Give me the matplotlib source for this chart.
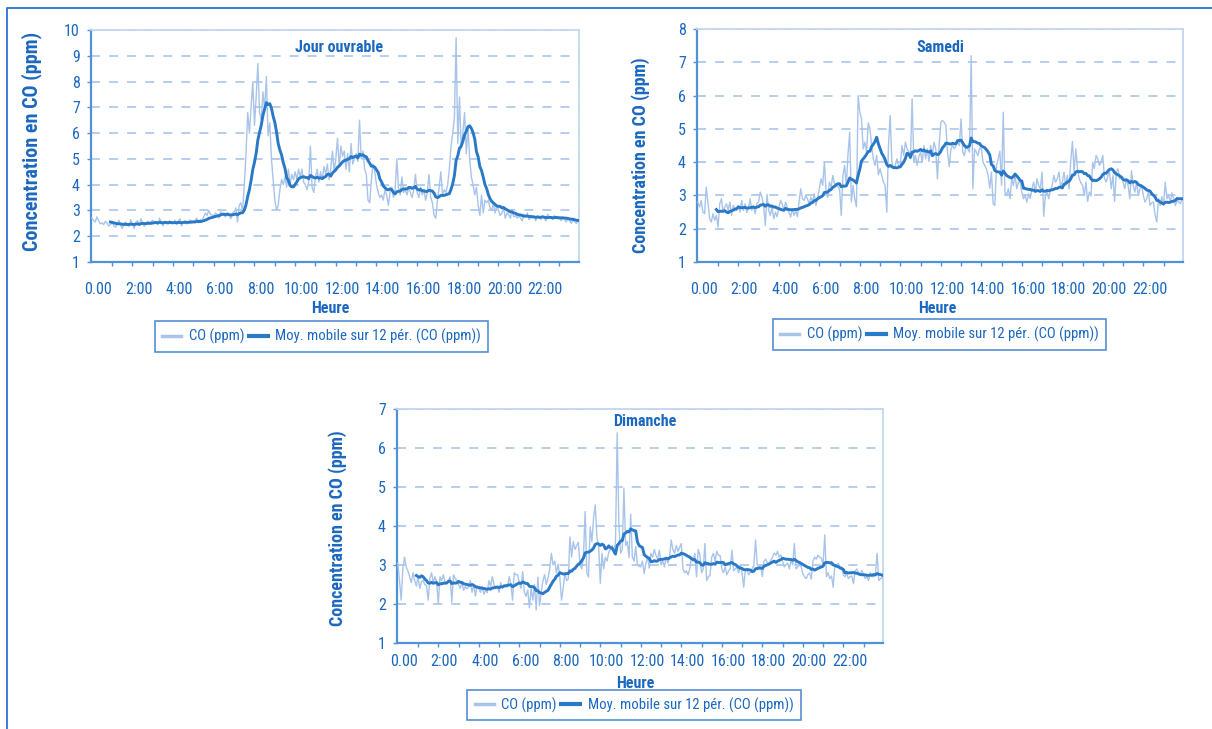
import numpy as np
import pandas as pd
import matplotlib
matplotlib.use("Agg")
import matplotlib.pyplot as plt
from matplotlib import font_manager
from matplotlib.lines import Line2D

W, H = 1212, 729

hour_labels = ["0.00", "2:00", "4:00", "6:00", "8:00", "10:00",
               "12:00", "14:00", "16:00", "18:00", "20:00", "22:00"]
titles = ["Jour ouvrable", "Samedi", "Dimanche"]
y_max = [10, 8, 7]
legend_labels = ["CO (ppm)", "Moy. mobile sur 12 pér. (CO (ppm))"]
ma_window = 12

# 5-minute CO readings (ppm), one row per hour
co_ouvrable = [
    2.70, 2.62, 2.55, 2.75, 2.60, 2.48, 2.52, 2.45, 2.58, 2.50, 2.40, 2.45,
    2.55, 2.40, 2.35, 2.50, 2.62, 2.42, 2.30, 2.48, 2.55, 2.45, 2.38, 2.64,
    2.45, 2.30, 2.55, 2.60, 2.42, 2.68, 2.50, 2.38, 2.52, 2.58, 2.45, 2.57,
    2.62, 2.48, 2.55, 2.45, 2.70, 2.52, 2.40, 2.58, 2.50, 2.47, 2.60, 2.49,
    2.50, 2.62, 2.45, 2.58, 2.68, 2.40, 2.55, 2.60, 2.48, 2.52, 2.63, 2.59,
    2.55, 2.62, 2.70, 2.52, 2.65, 2.58, 2.75, 2.90, 2.80, 3.00, 2.85, 2.82,
    2.78, 2.90, 2.85, 2.70, 2.95, 2.88, 2.80, 2.75, 2.92, 2.85, 2.68, 2.90,
    2.95, 3.10, 2.55, 3.20, 3.30, 2.95, 4.00, 5.20, 6.80, 6.00, 7.00, 8.00,
    6.30, 7.40, 8.70, 6.80, 6.50, 7.60, 6.90, 8.20, 5.90, 6.40, 5.00, 4.20,
    3.40, 3.00, 3.20, 3.80, 4.20, 4.00, 4.30, 3.90, 4.60, 4.00, 4.40, 4.20,
    4.50, 4.20, 4.60, 4.30, 4.60, 4.10, 4.00, 3.80, 4.10, 5.50, 3.90, 3.70,
    4.30, 4.60, 4.10, 4.50, 4.20, 4.70, 4.40, 4.80, 4.20, 4.60, 5.30, 4.50,
    5.00, 5.80, 4.70, 5.50, 5.10, 5.30, 4.60, 5.20, 4.50, 5.60, 4.80, 5.00,
    5.20, 4.90, 6.50, 5.00, 5.30, 4.60, 4.40, 3.40, 3.30, 4.20, 4.80, 4.50,
    4.00, 3.70, 3.50, 3.60, 3.40, 3.80, 3.60, 3.20, 3.70, 3.90, 3.50, 3.80,
    5.00, 3.90, 3.60, 4.30, 3.70, 3.80, 3.60, 3.90, 3.70, 3.50, 3.80, 4.40,
    3.70, 3.50, 3.90, 3.60, 3.80, 3.40, 3.70, 4.40, 3.50, 3.30, 2.80, 2.70,
    3.40, 3.90, 4.50, 3.60, 3.80, 3.70, 4.00, 4.60, 5.50, 6.00, 6.60, 9.70,
    5.60, 7.40, 5.40, 6.00, 6.80, 5.20, 6.20, 5.00, 4.30, 4.00, 3.60, 3.90,
    3.20, 2.80, 3.60, 2.90, 3.40, 3.30, 3.40, 3.10, 3.00, 3.30, 2.90, 3.20,
    3.00, 2.80, 2.90, 3.10, 2.70, 2.90, 2.85, 2.70, 3.00, 2.75, 2.80, 2.70,
    2.80, 2.70, 2.60, 2.85, 2.75, 2.90, 2.65, 2.70, 2.80, 2.75, 2.60, 2.80,
    2.75, 2.65, 2.80, 2.70, 2.60, 2.85, 2.75, 2.70, 2.65, 2.80, 2.72, 2.68,
    2.70, 2.60, 2.75, 2.65, 2.55, 2.70, 2.60, 2.50, 2.65, 2.55, 2.50, 2.60,
]

co_samedi = [
    2.80, 2.65, 2.85, 2.50, 2.45, 3.25, 2.80, 2.30, 2.20, 2.45, 2.25, 2.40,
    2.05, 2.75, 2.90, 2.50, 2.65, 2.75, 2.55, 2.80, 2.40, 2.70, 2.60, 2.55,
    2.70, 2.50, 2.85, 2.55, 2.75, 2.49, 2.60, 2.90, 2.55, 2.70, 2.45, 2.76,
    2.80, 3.10, 2.95, 2.70, 2.10, 3.03, 2.55, 2.40, 2.65, 2.30, 2.50, 2.36,
    2.60, 2.85, 2.75, 2.55, 2.80, 2.65, 2.50, 2.35, 2.60, 2.40, 2.55, 2.36,
    2.80, 3.20, 2.90, 2.85, 3.00, 2.89, 2.75, 2.95, 2.80, 3.05, 2.70, 2.91,
    3.20, 3.50, 3.30, 4.00, 3.10, 2.94, 3.40, 3.25, 3.60, 3.35, 3.30, 3.26,
    3.20, 2.40, 3.60, 3.90, 3.30, 4.24, 4.90, 2.80, 3.30, 2.90, 2.66, 6.00,
    5.50, 5.30, 4.40, 4.60, 4.30, 5.18, 5.00, 4.50, 4.10, 3.90, 4.20, 3.62,
    3.80, 3.60, 3.40, 3.30, 2.50, 4.52, 5.40, 4.00, 3.80, 3.90, 4.10, 3.88,
    3.90, 4.50, 4.20, 4.60, 4.40, 4.32, 4.10, 5.90, 4.00, 4.20, 3.90, 4.18,
    4.30, 4.00, 4.50, 4.10, 4.40, 4.02, 4.50, 4.20, 4.60, 4.40, 3.50, 4.48,
    5.20, 5.25, 5.20, 5.10, 4.30, 3.87, 4.40, 4.50, 4.40, 4.50, 4.60, 4.50,
    5.30, 4.30, 4.20, 4.50, 4.40, 4.30, 7.20, 3.20, 4.40, 4.30, 4.20, 4.42,
    4.40, 4.00, 3.90, 3.80, 3.60, 3.22, 3.70, 2.75, 2.70, 3.90, 4.10, 4.33,
    3.30, 5.50, 3.10, 3.00, 3.20, 2.90, 3.50, 3.30, 3.60, 3.20, 3.40, 3.40,
    3.10, 2.90, 3.00, 2.80, 3.05, 2.91, 3.20, 3.40, 3.10, 3.50, 3.30, 3.18,
    3.70, 2.37, 3.00, 3.10, 2.90, 3.17, 3.30, 3.60, 3.40, 3.50, 3.70, 3.26,
    3.40, 3.70, 3.30, 3.60, 3.20, 4.04, 4.62, 3.70, 4.40, 3.80, 3.50, 3.38,
    3.30, 3.00, 3.40, 2.82, 3.10, 2.98, 4.00, 3.80, 4.20, 4.10, 3.90, 4.00,
    4.20, 3.50, 3.40, 3.60, 3.70, 3.20, 3.60, 2.82, 3.70, 3.80, 3.50, 3.58,
    3.40, 3.20, 3.50, 3.30, 2.90, 3.74, 3.30, 3.10, 3.40, 3.00, 3.20, 3.32,
    3.00, 2.80, 2.90, 3.10, 2.70, 2.78, 2.80, 2.40, 2.20, 2.90, 2.70, 2.96,
    2.70, 3.40, 2.90, 3.00, 2.80, 3.08, 2.90, 2.70, 2.85, 2.80, 2.75, 2.92,
]

co_dimanche = [
    3.05, 2.60, 2.10, 2.90, 3.20, 2.95, 2.85, 2.70, 2.55, 2.80, 2.60, 2.46,
    2.70, 2.40, 2.57, 2.60, 2.50, 2.47, 2.10, 2.65, 2.80, 2.55, 2.70, 2.56,
    2.01, 2.70, 2.60, 2.75, 2.55, 2.51, 2.60, 2.70, 2.05, 2.75, 2.65, 2.61,
    2.50, 2.40, 2.55, 2.35, 2.45, 2.39, 2.45, 2.60, 2.30, 2.50, 2.20, 2.47,
    2.40, 2.30, 2.45, 2.25, 2.35, 2.29, 2.60, 2.45, 2.70, 2.50, 2.40, 2.47,
    2.30, 2.55, 2.40, 2.50, 2.45, 2.44, 2.70, 2.50, 2.10, 2.80, 2.75, 2.75,
    2.55, 2.40, 2.83, 2.30, 2.20, 2.36, 1.90, 2.40, 2.10, 2.50, 1.85, 2.69,
    1.95, 2.30, 2.60, 2.75, 2.50, 2.66, 2.90, 3.30, 3.00, 3.10, 2.80, 3.02,
    2.70, 2.10, 2.40, 2.80, 2.60, 2.64, 3.72, 3.20, 3.60, 3.40, 3.50, 3.58,
    3.00, 2.90, 3.20, 4.37, 2.80, 2.69, 3.98, 3.60, 4.20, 4.54, 3.70, 3.50,
    2.53, 3.30, 2.90, 3.20, 3.10, 3.33, 3.40, 3.50, 3.30, 3.60, 6.39, 4.05,
    3.30, 3.40, 4.97, 3.50, 3.60, 3.19, 4.30, 3.20, 3.10, 3.47, 3.00, 2.97,
    2.95, 3.10, 2.78, 3.05, 3.20, 2.92, 3.30, 3.20, 3.40, 3.25, 3.15, 3.38,
    3.00, 3.10, 2.95, 3.20, 3.05, 3.18, 3.64, 3.40, 3.30, 3.50, 3.35, 3.45,
    3.55, 2.90, 2.80, 2.85, 2.75, 2.91, 3.20, 3.10, 3.30, 2.70, 3.40, 3.26,
    2.80, 2.90, 3.55, 2.60, 2.70, 2.73, 3.20, 3.30, 3.10, 3.35, 3.25, 3.24,
    2.90, 2.80, 2.95, 2.75, 2.85, 2.91, 3.38, 2.85, 2.90, 2.95, 2.80, 3.00,
    2.80, 2.43, 2.90, 2.85, 2.75, 2.83, 2.90, 3.00, 3.64, 3.00, 2.95, 2.99,
    2.70, 3.10, 3.15, 3.05, 3.00, 3.12, 3.20, 3.30, 3.25, 3.35, 3.20, 3.26,
    3.10, 2.95, 3.00, 3.05, 2.90, 3.12, 3.00, 3.55, 2.90, 2.95, 3.00, 2.96,
    2.78, 2.70, 2.65, 2.75, 2.80, 2.64, 3.10, 3.20, 3.15, 3.25, 3.20, 3.18,
    3.00, 3.77, 2.70, 2.80, 2.65, 2.72, 2.43, 3.00, 2.95, 3.05, 2.90, 2.95,
    2.75, 2.70, 2.80, 2.65, 2.70, 2.72, 2.52, 2.85, 2.90, 2.80, 2.75, 2.86,
    2.75, 2.65, 2.70, 2.60, 2.80, 2.70, 2.70, 2.75, 3.30, 2.60, 2.65, 2.68,
]

# ---- fonts: prefer a narrow sans face ----
installed = {f.name for f in font_manager.fontManager.ttflist}
FONT = "DejaVu Sans"
for fam in ["Liberation Sans Narrow", "Roboto Condensed", "Open Sans Condensed",
            "Liberation Sans", "Arial"]:
    if fam in installed:
        FONT = fam
        break
plt.rcParams["font.family"] = [FONT, "DejaVu Sans"]

TEXT = "#1b68c0"
RAW = "#a8c4ea"
MA = "#2a79c6"
GRID = "#b0c9ec"
AXIS = "#4f92d8"
FRAME = "#c3d6f0"
BORDER = "#2a73c8"

fig = plt.figure(figsize=(W / 100, H / 100), dpi=100)
fig.patch.set_facecolor("white")


def fx(x):
    return x / W


def fy(y):
    return 1 - y / H


panels = [
    dict(data=co_ouvrable, ymax=y_max[0], title=titles[0],
         box=(91, 30, 579, 262), title_xy=(339, 48), ylabel_xy=(32, 141),
         ylabel_fs=14.5, heure_xy=(330, 309), xpad=14.5,
         legend_xy=(321.5, 336.5)),
    dict(data=co_samedi, ymax=y_max[1], title=titles[1],
         box=(697, 29, 1183, 262), title_xy=(940, 48), ylabel_xy=(641, 155),
         ylabel_fs=13.0, heure_xy=(937, 309), xpad=14.5,
         legend_xy=(939.5, 334.5)),
    dict(data=co_dimanche, ymax=y_max[2], title=titles[2],
         box=(397, 409, 883, 643), title_xy=(645, 422), ylabel_xy=(338, 528),
         ylabel_fs=13.0, heure_xy=(635, 683), xpad=8.0,
         legend_xy=(634, 705)),
]

for p in panels:
    l, t, r, b = p["box"]
    ax = fig.add_axes([fx(l), fy(b), fx(r) - fx(l), (b - t) / H])
    vals = np.asarray(p["data"], dtype=float)
    hours = np.arange(len(vals)) / 12.0
    moving = pd.Series(vals).rolling(ma_window).mean()

    ax.plot(hours, vals, color=RAW, lw=1.0, zorder=3)
    ax.plot(hours, moving, color=MA, lw=2.1, zorder=4)

    ax.set_xlim(-0.04, 23.96)
    ax.set_ylim(1, p["ymax"])
    ax.set_axisbelow(True)

    ax.set_yticks(range(1, p["ymax"] + 1))
    ax.set_yticklabels([str(v) for v in range(1, p["ymax"] + 1)])
    ax.yaxis.grid(True, linestyle=(0, (5, 5)), color=GRID, lw=1.3)

    ax.set_xticks([2 * k + 0.3 for k in range(12)])
    ax.set_xticklabels(hour_labels)
    ax.set_xticks(np.arange(1, 24), minor=True)

    ax.tick_params(axis="x", which="major", length=0, pad=p["xpad"],
                   labelsize=11.5, labelcolor=TEXT)
    ax.tick_params(axis="x", which="minor", length=3, width=1, color=AXIS,
                   direction="out")
    ax.tick_params(axis="y", length=3, width=1, color=AXIS, pad=5,
                   labelsize=11.5, labelcolor=TEXT)

    for side in ("left", "bottom"):
        ax.spines[side].set_color(AXIS)
        ax.spines[side].set_linewidth(1.6)
    for side in ("top", "right"):
        ax.spines[side].set_color(FRAME)
        ax.spines[side].set_linewidth(1.3)

    tx, ty = p["title_xy"]
    fig.text(fx(tx), fy(ty), p["title"], ha="center", va="center",
             fontsize=11.5, fontweight="bold", color=TEXT)
    hx, hy = p["heure_xy"]
    fig.text(fx(hx), fy(hy), "Heure", ha="center", va="center",
             fontsize=11.5, fontweight="bold", color=TEXT)
    yx, yy = p["ylabel_xy"]
    fig.text(fx(yx), fy(yy), "Concentration en CO (ppm)", ha="center",
             va="center", rotation=90, fontsize=p["ylabel_fs"],
             fontweight="bold", color=TEXT)

    lx, ly = p["legend_xy"]
    h1 = Line2D([], [], color=RAW, lw=2.5)
    h2 = Line2D([], [], color=MA, lw=3.0)
    leg = ax.legend([h1, h2], legend_labels, loc="center",
                    bbox_to_anchor=(fx(lx), fy(ly)),
                    bbox_transform=fig.transFigure, ncol=2, frameon=True,
                    fancybox=False, fontsize=10.6, handlelength=1.3,
                    handletextpad=0.5, columnspacing=0.3, borderpad=0.5,
                    borderaxespad=0)
    leg.get_frame().set_edgecolor(BORDER)
    leg.get_frame().set_linewidth(1.2)
    for txt in leg.get_texts():
        txt.set_color(TEXT)

# outer frame (left and top edges)
fig.add_artist(Line2D([fx(7), fx(7), 1.0], [0.0, fy(8), fy(8)],
                      transform=fig.transFigure, color=BORDER, lw=1.3))

fig.savefig("out.png", dpi=100)
